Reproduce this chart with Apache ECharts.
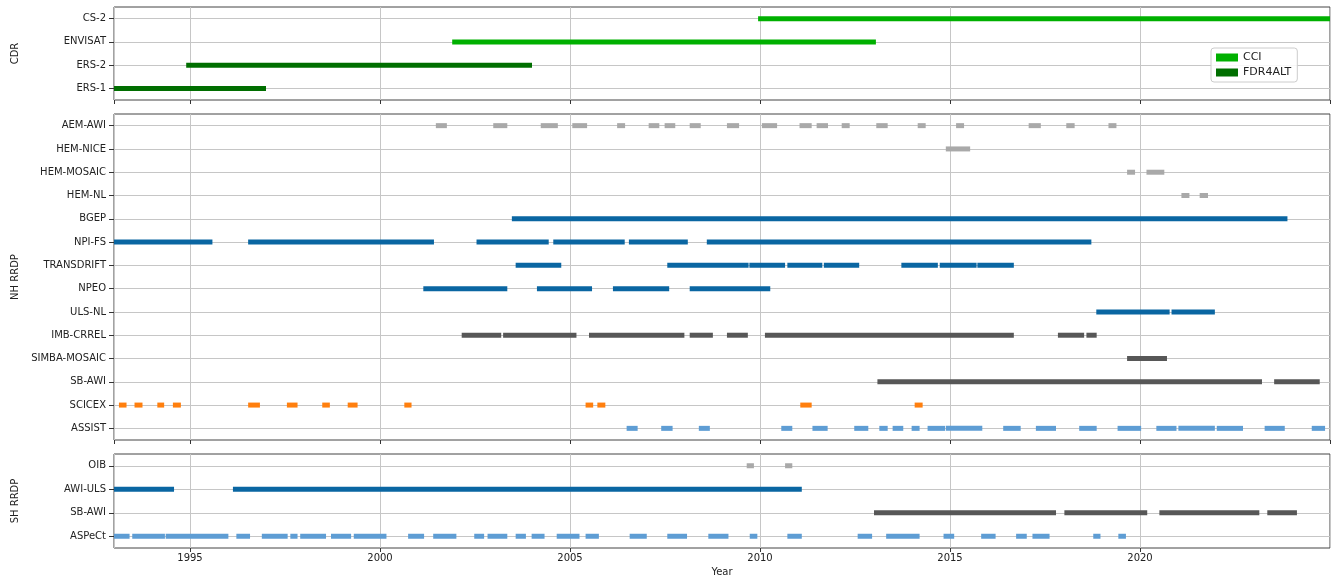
<!DOCTYPE html>
<html>
<head>
<meta charset="utf-8">
<script src="https://cdn.jsdelivr.net/npm/echarts@6/dist/echarts.min.js"></script>
<style>
  html, body { margin: 0; padding: 0; background: #fff; }
  #chart { width: 1333px; height: 581px; }
</style>
</head>
<body>
<div id="chart"></div>
<script>
// row labels per panel (top to bottom)
const cdrRows = ['CS-2', 'ENVISAT', 'ERS-2', 'ERS-1'];
const nhRows = ['AEM-AWI', 'HEM-NICE', 'HEM-MOSAIC', 'HEM-NL', 'BGEP', 'NPI-FS', 'TRANSDRIFT',
  'NPEO', 'ULS-NL', 'IMB-CRREL', 'SIMBA-MOSAIC', 'SB-AWI', 'SCICEX', 'ASSIST'];
const shRows = ['OIB', 'AWI-ULS', 'SB-AWI', 'ASPeCt'];

// coverage periods [start year, end year]
// CDR
const cs2 = [[2009.95, 2025]];
const envisat = [[2001.9, 2013.05]];
const ers2 = [[1994.9, 2004.0]];
const ers1 = [[1993.0, 1997.0]];

// NH RRDP
const aemAwi = [[2001.47, 2001.76], [2002.98, 2003.35], [2004.23, 2004.68], [2005.06, 2005.45],
  [2006.24, 2006.45], [2007.07, 2007.35], [2007.49, 2007.77], [2008.15, 2008.44], [2009.13, 2009.45],
  [2010.05, 2010.45], [2011.04, 2011.36], [2011.49, 2011.79], [2012.15, 2012.36], [2013.06, 2013.36],
  [2014.15, 2014.36], [2015.16, 2015.37], [2017.07, 2017.39], [2018.06, 2018.28], [2019.17, 2019.38]];
const hemNice = [[2014.89, 2015.53]];
const hemMosaic = [[2019.66, 2019.87], [2020.17, 2020.64]];
const hemNl = [[2021.09, 2021.3], [2021.57, 2021.79]];
const bgep = [[2003.47, 2023.88]];
const npiFs = [[1993.0, 1995.59], [1996.53, 2001.42], [2002.54, 2004.44], [2004.56, 2006.44],
  [2006.55, 2008.1], [2008.6, 2018.72]];
const transdrift = [[2003.57, 2004.77], [2007.56, 2009.7], [2009.72, 2010.66], [2010.72, 2011.64],
  [2011.68, 2012.61], [2013.72, 2014.68], [2014.73, 2015.7], [2015.72, 2016.68]];
const npeo = [[2001.14, 2003.35], [2004.13, 2005.58], [2006.13, 2007.61], [2008.15, 2010.27]];
const ulsNl = [[2018.85, 2020.78], [2020.83, 2021.97]];
const imbCrrel = [[2002.15, 2003.19], [2003.24, 2005.17], [2005.5, 2008.01], [2008.15, 2008.76],
  [2009.13, 2009.68], [2010.13, 2016.68], [2017.84, 2018.53], [2018.59, 2018.86]];
const simbaMosaic = [[2019.66, 2020.71]];
const sbAwiNh = [[2013.09, 2023.21], [2023.53, 2024.73]];
const scicex = [[1993.13, 1993.33], [1993.54, 1993.75], [1994.14, 1994.32], [1994.55, 1994.76],
  [1996.53, 1996.84], [1997.55, 1997.83], [1998.48, 1998.68], [1999.15, 1999.41], [2000.64, 2000.83],
  [2005.41, 2005.61], [2005.72, 2005.93], [2011.06, 2011.36], [2014.07, 2014.28]];
const assist = [[2006.49, 2006.78], [2007.4, 2007.7], [2008.39, 2008.68], [2010.56, 2010.85],
  [2011.38, 2011.78], [2012.48, 2012.85], [2013.14, 2013.36], [2013.49, 2013.77], [2013.99, 2014.2],
  [2014.41, 2014.87], [2014.89, 2015.85], [2016.4, 2016.86], [2017.26, 2017.79], [2018.4, 2018.86],
  [2019.41, 2020.03], [2020.43, 2020.96], [2021.01, 2021.97], [2022.02, 2022.71], [2023.28, 2023.81],
  [2024.52, 2024.87]];

// SH RRDP
const oib = [[2009.65, 2009.84], [2010.66, 2010.85]];
const awiUls = [[1993.0, 1994.58], [1996.13, 2011.1]];
const sbAwiSh = [[2013.0, 2017.79], [2018.01, 2020.19], [2020.51, 2023.14], [2023.35, 2024.13]];
const aspect = [[1993.0, 1993.41], [1993.48, 1994.34], [1994.36, 1996.01], [1996.22, 1996.58],
  [1996.89, 1997.57], [1997.64, 1997.83], [1997.9, 1998.58], [1998.71, 1999.24], [1999.31, 2000.17],
  [2000.74, 2001.16], [2001.4, 2002.01], [2002.48, 2002.74], [2002.83, 2003.35], [2003.57, 2003.84],
  [2003.99, 2004.33], [2004.65, 2005.25], [2005.41, 2005.76], [2006.57, 2007.02], [2007.56, 2008.08],
  [2008.64, 2009.17], [2009.73, 2009.93], [2010.72, 2011.1], [2012.57, 2012.95], [2013.32, 2014.2],
  [2014.83, 2015.11], [2015.82, 2016.2], [2016.74, 2017.02], [2017.17, 2017.62], [2018.77, 2018.96],
  [2019.43, 2019.63]];

const FONT = 'DejaVu Sans';
const TXT = '#222';

// one horizontal line per period, placed with the axes' own scales
function drawSeg(params, api) {
  const row = api.value(2);
  const p0 = api.coord([api.value(0), row]);
  const p1 = api.coord([api.value(1), row]);
  return {
    type: 'line',
    shape: { x1: p0[0], y1: p0[1], x2: p1[0], y2: p1[1] },
    style: { stroke: api.visual('color'), lineWidth: 5, lineCap: 'butt' }
  };
}

function segSeries(name, idx, color, rows) {
  let data = [];
  rows.forEach(r => {
    data = data.concat(r[1].map(s => [s[0], s[1], r[0]]));
  });
  return {
    type: 'custom', name: name, xAxisIndex: idx, yAxisIndex: idx,
    itemStyle: { color: color }, renderItem: drawSeg,
    encode: { x: [0, 1], y: 2 }, data: data, silent: true
  };
}

const gridTops = [7, 114, 454];
const gridHeights = [93, 326, 94];

const grids = gridTops.map((t, i) => ({
  left: 114, right: 3, top: t, height: gridHeights[i],
  show: true, borderColor: '#444', borderWidth: 1, backgroundColor: 'transparent'
}));

const xAxes = [0, 1, 2].map(i => ({
  type: 'value', gridIndex: i, min: 1993, max: 2025,
  axisLine: { show: false },
  axisTick: { show: true, length: 4, lineStyle: { color: '#333' } },
  axisLabel: {
    show: i === 2, showMinLabel: false, showMaxLabel: false, margin: 5,
    formatter: v => String(v),
    fontFamily: FONT, fontSize: 10, color: TXT
  },
  splitLine: { show: true, lineStyle: { color: '#c6c6c6', width: 1 } },
  name: i === 2 ? 'Year' : '', nameLocation: 'middle', nameGap: 19,
  nameTextStyle: { fontFamily: FONT, fontSize: 10, color: TXT }
}));

const axisNames = ['CDR', 'NH RRDP', 'SH RRDP'];
const nameGaps = [94, 86, 94];
const yAxes = [cdrRows, nhRows, shRows].map((rows, i) => ({
  type: 'category', gridIndex: i, data: rows, inverse: true,
  axisLine: { show: false },
  axisTick: { show: true, length: 5, alignWithLabel: true, lineStyle: { color: '#333' } },
  axisLabel: { margin: 8, fontFamily: FONT, fontSize: 10, color: TXT },
  splitLine: { show: true, alignWithLabel: true, lineStyle: { color: '#c6c6c6', width: 1 } },
  name: axisNames[i], nameLocation: 'middle', nameRotate: 90, nameGap: nameGaps[i],
  nameTextStyle: { fontFamily: FONT, fontSize: 10, color: TXT }
}));

const BLUE = '#0a66a2';
const LIGHTBLUE = '#5e9dd4';
const GRAY = '#a9a9a9';
const DARKGRAY = '#575757';
const ORANGE = '#ff7f0e';

const series = [
  segSeries('CCI', 0, '#00b000', [['CS-2', cs2], ['ENVISAT', envisat]]),
  segSeries('FDR4ALT', 0, '#006e00', [['ERS-2', ers2], ['ERS-1', ers1]]),
  segSeries('nh-em', 1, GRAY, [['AEM-AWI', aemAwi], ['HEM-NICE', hemNice], ['HEM-MOSAIC', hemMosaic], ['HEM-NL', hemNl]]),
  segSeries('nh-uls', 1, BLUE, [['BGEP', bgep], ['NPI-FS', npiFs], ['TRANSDRIFT', transdrift], ['NPEO', npeo], ['ULS-NL', ulsNl]]),
  segSeries('nh-buoy', 1, DARKGRAY, [['IMB-CRREL', imbCrrel], ['SIMBA-MOSAIC', simbaMosaic], ['SB-AWI', sbAwiNh]]),
  segSeries('nh-sub', 1, ORANGE, [['SCICEX', scicex]]),
  segSeries('nh-ship', 1, LIGHTBLUE, [['ASSIST', assist]]),
  segSeries('sh-em', 2, GRAY, [['OIB', oib]]),
  segSeries('sh-uls', 2, BLUE, [['AWI-ULS', awiUls]]),
  segSeries('sh-buoy', 2, DARKGRAY, [['SB-AWI', sbAwiSh]]),
  segSeries('sh-ship', 2, LIGHTBLUE, [['ASPeCt', aspect]])
];

const chart = echarts.init(document.getElementById('chart'));
chart.setOption({
  animation: false,
  backgroundColor: '#fff',
  textStyle: { fontFamily: FONT },
  grid: grids,
  xAxis: xAxes,
  yAxis: yAxes,
  legend: {
    data: [{ name: 'CCI', icon: 'rect' }, { name: 'FDR4ALT', icon: 'rect' }],
    orient: 'vertical', left: 1211, top: 48,
    itemWidth: 22, itemHeight: 8, itemGap: 4,
    padding: [4, 6, 4, 5],
    borderColor: '#cccccc', borderWidth: 1, borderRadius: 3,
    backgroundColor: 'rgba(255,255,255,0.85)',
    selectedMode: false,
    textStyle: { fontFamily: FONT, fontSize: 11, color: TXT }
  },
  series: series
});
</script>
</body>
</html>
